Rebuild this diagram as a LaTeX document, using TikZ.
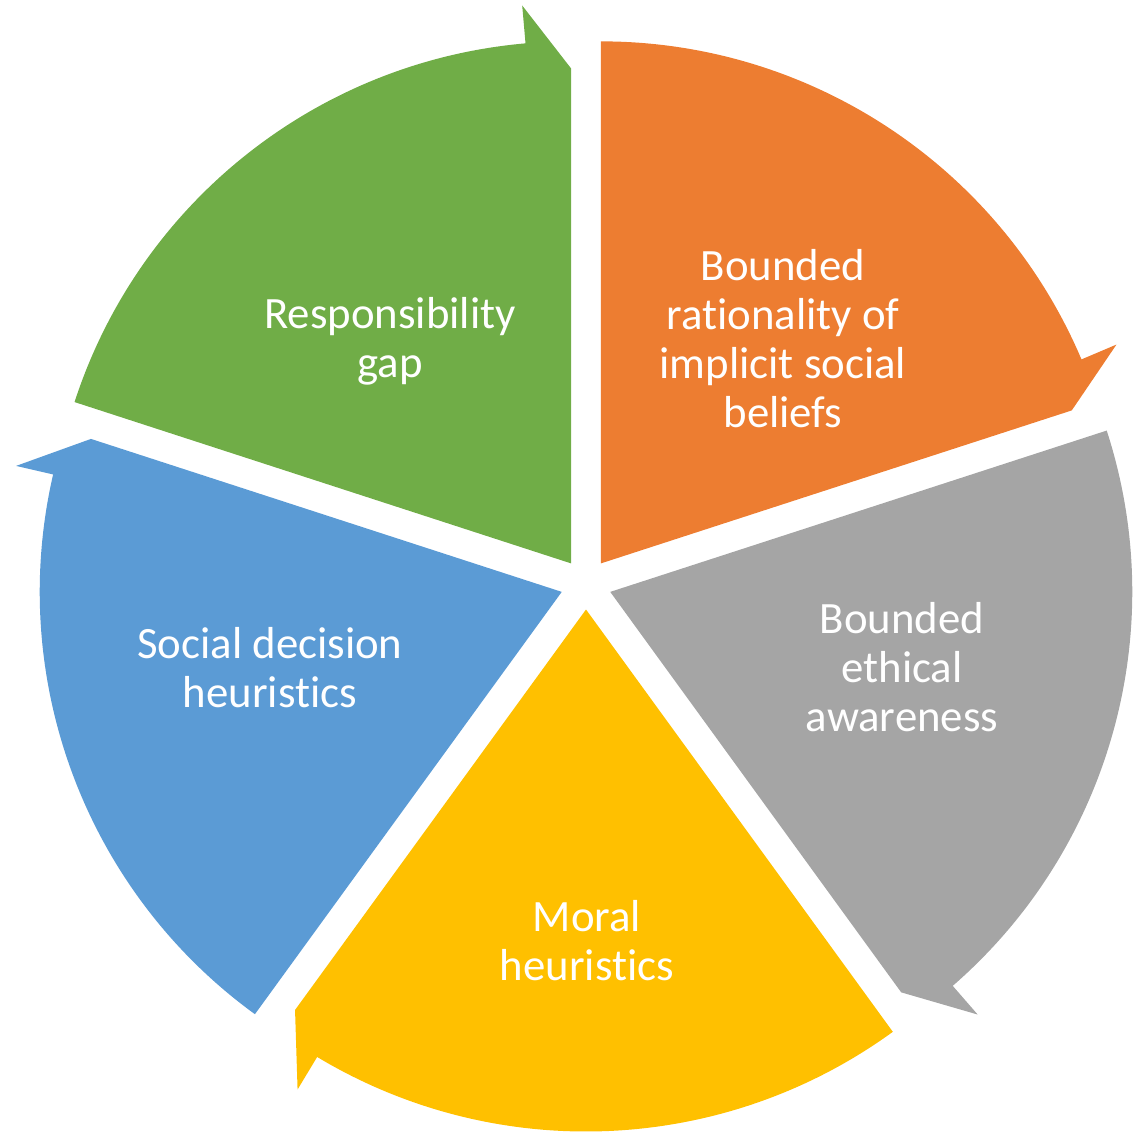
\documentclass[tikz,border=0pt]{standalone}
\usepackage{fontspec}
\setmainfont{Carlito}[RawFeature={-liga;-clig;-calt;-dlig}]
\definecolor{cgreen}{HTML}{70AD47}
\definecolor{corange}{HTML}{ED7D31}
\definecolor{cgray}{HTML}{A5A5A5}
\definecolor{cyellow}{HTML}{FFC000}
\definecolor{cblue}{HTML}{5B9BD5}
\newcommand{\cycseg}[3]{%
  % #1 colour, #2 start angle, #3 end angle (clockwise)
  \pgfmathsetmacro{\segbis}{(#2+#3)/2}%
  \pgfmathsetmacro{\segarc}{#3+5}%
  \begin{scope}[shift={(\segbis:25.5)}]
    \fill[#1] (0,0) -- (#2:522) arc[start angle=#2, end angle=\segarc, radius=522]
      -- (\segarc:560) -- (#3:495) -- cycle;
  \end{scope}}
\begin{document}
\begin{tikzpicture}[x=1pt,y=1pt,
  lbl/.style={text=white, align=center, inner sep=0pt,
    font=\fontsize{44.8}{49}\selectfont}]
\useasboundingbox (-586,-554) rectangle (556,584);
\cycseg{cgreen}{162}{90}
\cycseg{corange}{90}{18}
\cycseg{cgray}{18}{-54}
\cycseg{cyellow}{-54}{-126}
\cycseg{cblue}{-126}{-198}
\node[lbl] (tgreen) at (-196,243) {Responsibility\\gap};
\node[lbl] (torange) at (197,245.5) {Bounded\\rationality of\\implicit social\\beliefs};
\node[lbl] (tgray) at (316,-83) {Bounded\\ethical\\awareness};
\node[lbl] (tyellow) at (1,-357) {Moral\\heuristics};
\node[lbl] (tblue) at (-316,-83.5) {Social decision\\heuristics};
\end{tikzpicture}
\end{document}
